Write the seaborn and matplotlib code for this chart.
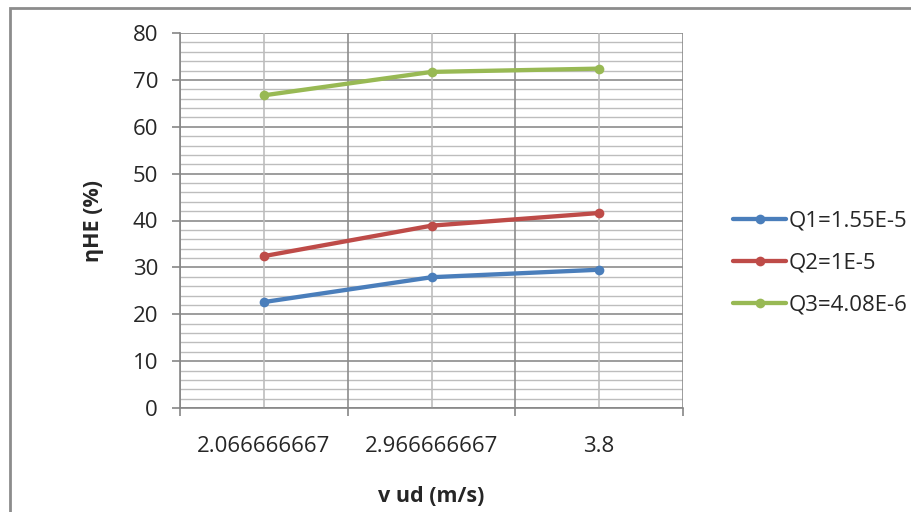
import matplotlib
matplotlib.use("Agg")
import matplotlib.pyplot as plt
import seaborn as sns
import pandas as pd
from matplotlib.patches import Rectangle

categories = ["2.066666667", "2.966666667", "3.8"]
series_names = ["Q1=1.55E-5", "Q2=1E-5", "Q3=4.08E-6"]
q1 = [22.6, 27.9, 29.5]
q2 = [32.4, 38.9, 41.6]
q3 = [66.7, 71.7, 72.4]
colors = ["#4A7EBB", "#BE4B48", "#98B954"]

rows = []
for name, vals in zip(series_names, [q1, q2, q3]):
    for c, v in zip(categories, vals):
        rows.append({"v": c, "eta": v, "series": name})
df = pd.DataFrame(rows)

sns.set_theme(style="white")
plt.rcParams['font.family'] = ['Open Sans', 'DejaVu Sans']

fig = plt.figure(figsize=(9.11, 5.12), dpi=100)
ax = fig.add_axes([180/911, 1-408/512, (683-180)/911, (408-33)/512])

sns.lineplot(data=df, x="v", y="eta", hue="series", palette=colors, marker="o",
             markersize=7, markeredgewidth=0, linewidth=3.1, sort=False, ax=ax, zorder=5)

ax.set_xlim(-0.5, 2.5)
ax.set_ylim(0, 80)

# grid
for y in range(0, 81, 2):
    major = (y % 10 == 0)
    ax.axhline(y, color="#8C8C8C" if major else "#BDBDBD", lw=1.2 if major else 1.0, zorder=1)
for x in [-0.5, 0.5, 1.5, 2.5]:
    ax.axvline(x, color="#8C8C8C", lw=1.2, zorder=1)
for x in [0, 1, 2]:
    ax.axvline(x, color="#BDBDBD", lw=1.2, zorder=1)

for s in ["top", "right"]:
    ax.spines[s].set_visible(False)
for s in ["left", "bottom"]:
    ax.spines[s].set_color("#868686")
    ax.spines[s].set_linewidth(1.2)
    ax.spines[s].set_zorder(2)

ax.set_yticks(range(0, 81, 10))
ax.set_xticks([0, 1, 2])
ax.set_xticklabels(categories)
ax.set_xticks([-0.5, 0.5, 1.5, 2.5], minor=True)
ax.tick_params(axis="x", which="major", length=0, pad=20, labelsize=16, labelcolor="#262626")
ax.tick_params(axis="x", which="minor", length=5.8, width=1.2, color="#868686", direction="out", bottom=True)
ax.tick_params(axis="y", which="major", length=5.8, width=1.2, color="#868686", direction="out", left=True,
               labelsize=16, labelcolor="#262626", pad=10)

ax.set_xlabel("v ud (m/s)", fontsize=15.5, fontweight="bold", color="#262626", va="center")
ax.xaxis.set_label_coords(0.5, (408-497)/375)
ax.set_ylabel("ηHE (%)", fontsize=15.5, fontweight="bold", color="#262626", va="center")
ax.yaxis.set_label_coords((93-180)/503, 0.5)

ax.legend(title=None, frameon=False, loc="center left", bbox_to_anchor=(733/911, 1 - 263/512),
          bbox_transform=fig.transFigure, fontsize=16, handlelength=2.4, handletextpad=0.1,
          labelspacing=0.95, borderpad=0, borderaxespad=0)
for t in ax.get_legend().get_texts():
    t.set_color("#262626")

fig.patches.append(Rectangle((10/911, -0.1), 1.2, 1 - 8/512 + 0.1, transform=fig.transFigure,
                             fill=False, edgecolor="#8C8C8C", lw=2, zorder=0))

fig.savefig("out.png", dpi=100)
